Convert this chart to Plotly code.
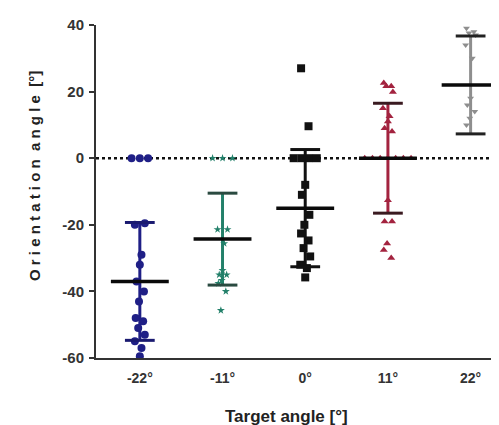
import plotly.graph_objects as go

categories = ["-22°", "-11°", "0°", "11°", "22°"]

vals_m22 = [0, 0, 0, -19.5, -20, -29, -32, -37, -40, -43, -48, -49, -51, -53, -55, -57, -59.5]
vals_m11 = [0, 0, 0, -21.4, -21.4, -25.6, -33.7, -35, -35, -36.7, -37.6, -40, -45.7]
vals_0 = [27, 9.6, 0, 0, 0, 0, -8, -11, -17, -20, -22.6, -24.7, -27, -29.5, -32, -33, -35.8]
vals_p11 = [22.6, 21.6, 21.6, 19.9, 15, 12.6, 11, 9, 8, 0, 0, 0, 0, 0, 0, 0, -12.6, -19, -19, -25.6, -27.6, -30]
vals_p22 = [39, 38, 37.6, 37, 34, 30, 18, 16, 14, 12, 10]

means = [-37, -24.3, -15, 0, 22]
sds = [17.7, 13.8, 17.6, 16.5, 14.7]

groups = [vals_m22, vals_m11, vals_0, vals_p11, vals_p22]
colors = ["#1f1f86", "#23806a", "#111111", "#a3233f", "#8e8e8e"]
cap_colors = ["#1a1a70", "#2a4a40", "#111111", "#3a1a20", "#222222"]
symbols = ["circle", "star", "square", "triangle-up", "triangle-down"]
sizes = [8, 6, 8, 7, 6]
zero_spread = [0.1, 0.12, 0.14, 0.28, 0.1]

fig = go.Figure()

# zero reference line
fig.add_shape(type="line", xref="paper", yref="y", x0=0, x1=1, y0=0, y1=0,
              line=dict(color="#111111", width=2.5, dash="dot"), layer="below")

jit = [-0.05, 0.04, -0.02, 0.06, -0.06, 0.02, 0.0, -0.04, 0.05, -0.01]
for i, (vals, col) in enumerate(zip(groups, colors)):
    m, s = means[i], sds[i]
    fig.add_trace(go.Scatter(x=[i, i], y=[m - s, m + s], mode="lines",
                             line=dict(color=col, width=3), hoverinfo="skip", showlegend=False))
    xs = []
    zc = 0
    n0 = vals.count(0)
    for k, v in enumerate(vals):
        if v == 0:
            spread = zero_spread[i]
            off = -spread + (2 * spread) * (zc / max(n0 - 1, 1))
            zc += 1
            xs.append(i + off)
        else:
            xs.append(i + jit[k % len(jit)])
    fig.add_trace(go.Scatter(x=xs, y=vals, mode="markers",
                             marker=dict(symbol=symbols[i], size=sizes[i], color=col,
                                         line=dict(width=0)),
                             showlegend=False))
    for yv in (m - s, m + s):
        fig.add_trace(go.Scatter(x=[i - 0.18, i + 0.18], y=[yv, yv], mode="lines",
                                 line=dict(color=cap_colors[i], width=3), hoverinfo="skip", showlegend=False))
    fig.add_trace(go.Scatter(x=[i - 0.35, i + 0.35], y=[m, m], mode="lines",
                             line=dict(color="#0a0a0a", width=3.5), hoverinfo="skip", showlegend=False))

font = "Liberation Sans, Arial, sans-serif"
fig.update_layout(
    width=499, height=425,
    margin=dict(l=88, r=0, t=17, b=75),
    paper_bgcolor="white", plot_bgcolor="white",
    font=dict(family=font, color="#222222"),
    xaxis=dict(range=[-0.53, 4.44], tickmode="array", tickvals=list(range(len(categories))),
               ticktext=[f"<b>{c}</b>" for c in categories], ticks="", showgrid=False,
               zeroline=False, showline=True, linecolor="#333333", linewidth=2,
               tickfont=dict(size=14, color="#333333"), ticklabelstandoff=6),
    yaxis=dict(range=[-60, 40], tickvals=[-60, -40, -20, 0, 20, 40], ticks="outside",
               ticklen=5, tickwidth=2, tickcolor="#333333", showgrid=False, zeroline=False,
               showline=True, linecolor="#333333", linewidth=2,
               ticktext=["<b>-60</b>", "<b>-40</b>", "<b>-20</b>", "<b>0</b>", "<b>20</b>", "<b>40</b>"],
               tickmode="array", ticklabelstandoff=2,
               tickfont=dict(size=15, color="#333333")),
)

fig.add_annotation(text="<b>Target angle [°]</b>", xref="paper", yref="paper",
                   x=(278 - 88) / 411, y=-(408 - 350) / 333, showarrow=False,
                   font=dict(size=17, color="#222222", family=font), yanchor="middle", xanchor="center")
fig.add_annotation(text="<b>O r i e n t a t i o n  a n g l e  [°]</b>", xref="paper", yref="paper",
                   x=-(88 - 26) / 411, y=(350 - 168) / 333, textangle=-90, showarrow=False,
                   font=dict(size=15, color="#222222", family=font), xanchor="center", yanchor="middle")

fig.write_html("out.html")
